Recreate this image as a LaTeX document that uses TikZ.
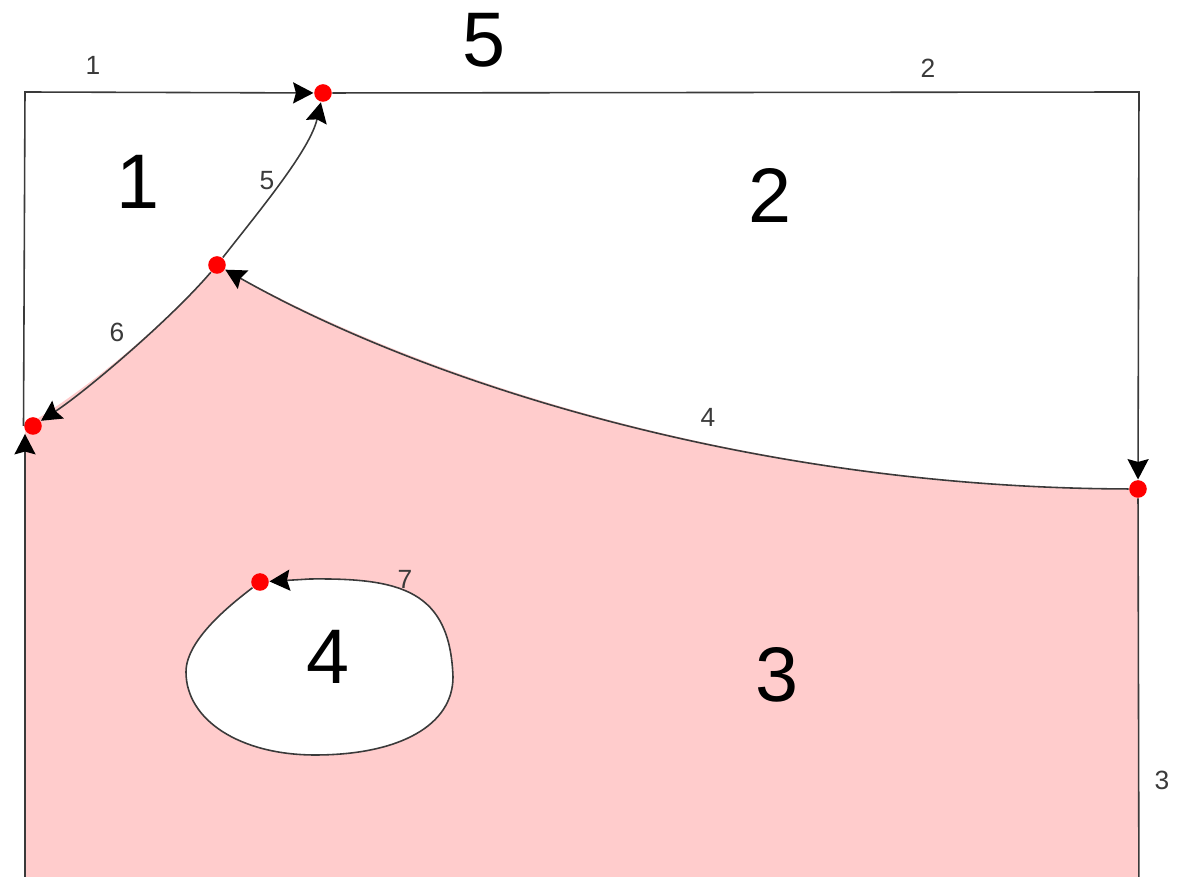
\documentclass[tikz,border=0pt]{standalone}
\usepackage{fontspec}
\setmainfont{Liberation Sans}
\usetikzlibrary{arrows.meta}
\definecolor{regionpink}{HTML}{FFCCCC}
\definecolor{edgegray}{HTML}{3A3A3A}
\tikzset{
  edge/.style={draw=edgegray, line width=0.45pt, -{Stealth[length=5.8pt,width=6pt,inset=0.8pt,color=black]}},
  vertex/.style={circle, fill=red, inner sep=0pt, minimum size=5pt},
  facelabel/.style={font=\fontsize{22}{26}\selectfont},
  edgelabel/.style={text=edgegray, font=\fontsize{7.5}{9}\selectfont}
}
\begin{document}
\begin{tikzpicture}[x=0.01cm, y=-0.01cm]

        \useasboundingbox (0,0) rectangle (1184,877);
        \clip (0,0) rectangle (1184,877);

        % Corners of the outer frame
        \coordinate (tl) at (25,92);
        \coordinate (tr) at (1139,92);
        \coordinate (bl) at (25,920);
        \coordinate (br) at (1139,920);
        \coordinate (v3low) at (25,434);

        % Face 3 (pink) with the hole of face 4
        \fill[regionpink] (25,426) -- (bl) -- (br) -- (1139,489)
            .. controls (750,488) and (420,380) .. (217,265)
            .. controls (170,320) and (85,392) .. (25,426) -- cycle;
        \fill[white] (260,582) .. controls (230,605) and (186,640) .. (186,672)
            .. controls (186,720) and (240,755) .. (315,755)
            .. controls (400,755) and (453,725) .. (453,677)
            .. controls (450,590) and (400,578) .. (310,579) -- cycle;

        % Vertices
        \node[vertex] (v1) at (323,93) {};
        \node[vertex] (v2) at (217,265) {};
        \node[vertex] (v3) at (33,426) {};
        \node[vertex] (v4) at (1138,489) {};
        \node[vertex] (v5) at (260,582) {};

        % Edges
        \draw[edge] (v3.west) -- (tl) -- (v1);
        \draw[edge] (v1) -- (tr) -- (v4);
        \draw[edge] (v4) -- (br) -- (bl) -- (v3low);
        \draw[edge] (v4) .. controls (750,488) and (420,380) .. (v2);
        \draw[edge] (v2) .. controls (260,210) and (310,150) .. (v1);
        \draw[edge] (v2) .. controls (170,320) and (85,392) .. (v3);
        \draw[edge] (v5) .. controls (230,605) and (186,640) .. (186,672)
            .. controls (186,720) and (240,755) .. (315,755)
            .. controls (400,755) and (453,725) .. (453,677)
            .. controls (450,590) and (400,578) .. (310,579) -- (v5);

        % Edge numbers
        \node[edgelabel] (e1) at (93,65) {1};
        \node[edgelabel] (e2) at (928,68) {2};
        \node[edgelabel] (e3) at (1162,780) {3};
        \node[edgelabel] (e4) at (708,417) {4};
        \node[edgelabel] (e5) at (267,181) {5};
        \node[edgelabel] (e6) at (117,332) {6};
        \node[edgelabel] (e7) at (405,579) {7};

        % Face numbers
        \node[facelabel] (f1) at (138,182) {1};
        \node[facelabel] (f2) at (770,196) {2};
        \node[facelabel] (f3) at (777,675) {3};
        \node[facelabel] (f4) at (328,657) {4};
        \node[facelabel] (f5) at (484,40) {5};

\end{tikzpicture}
\end{document}
